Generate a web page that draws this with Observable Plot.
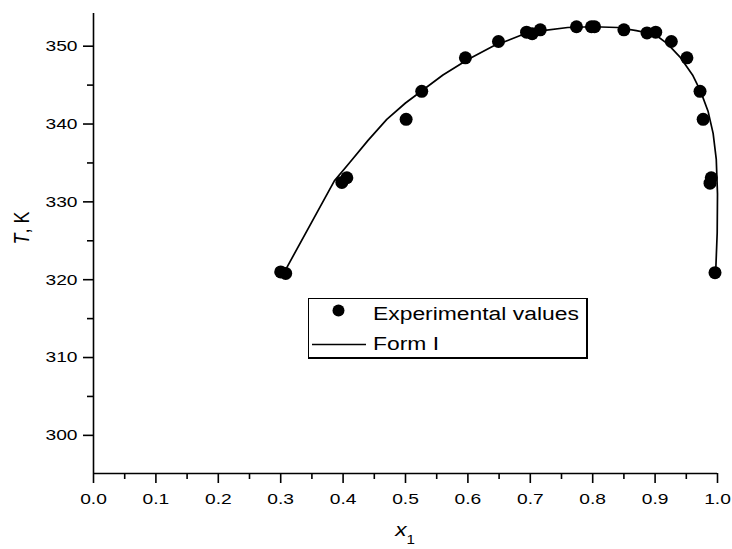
<!DOCTYPE html>
<html>
<head>
<meta charset="utf-8">
<script src="https://cdn.jsdelivr.net/npm/d3@7"></script>
<script src="https://cdn.jsdelivr.net/npm/@observablehq/plot@0.6"></script>
<style>
  body { margin: 0; background: #fff; }
  #wrap { position: relative; width: 732px; height: 549px; font-family: "Liberation Sans", Arial, sans-serif; color: #000; }
  #legend { position: absolute; left: 308px; top: 298px; width: 280px; height: 61px; box-sizing: border-box;
            border-style: solid; border-color: #000; border-width: 1.2px 2.6px 2.6px 1.2px; background: #fff; }
  #legend .sym { position: absolute; left: 0; top: 0; }
  #legend .lab { position: absolute; left: 64px; font-size: 18px; line-height: 20px; white-space: nowrap;
                 transform: scaleX(1.27); transform-origin: left center; }
</style>
</head>
<body>
<div id="wrap"></div>
<script>
// Experimental values (x1, T/K)
const expX = [0.300, 0.308, 0.398, 0.406, 0.501, 0.526, 0.596, 0.649, 0.694, 0.703, 0.716, 0.774,
              0.798, 0.803, 0.850, 0.887, 0.901, 0.926, 0.951, 0.972, 0.977, 0.988, 0.990, 0.996];
const expT = [321.0, 320.8, 332.5, 333.1, 340.6, 344.2, 348.5, 350.6, 351.8, 351.6, 352.1, 352.5,
              352.5, 352.5, 352.1, 351.7, 351.8, 350.6, 348.5, 344.2, 340.6, 332.4, 333.1, 320.9];
// Form I curve
const formX = [0.308, 0.386, 0.410, 0.440, 0.470, 0.500, 0.530, 0.560, 0.600, 0.640, 0.685, 0.720,
               0.760, 0.800, 0.840, 0.870, 0.900, 0.920, 0.940, 0.960, 0.973, 0.985, 0.993, 0.998,
               1.000, 0.9995, 0.997];
const formT = [321.3, 332.7, 335.0, 337.9, 340.6, 342.7, 344.5, 346.3, 348.3, 350.0, 351.4, 352.0,
               352.4, 352.5, 352.4, 352.0, 351.5, 350.3, 348.6, 346.3, 344.2, 341.6, 338.8, 335.5,
               331.0, 326.0, 320.8];

const xTicks = [0, 0.1, 0.2, 0.3, 0.4, 0.5, 0.6, 0.7, 0.8, 0.9, 1.0];
const xMinorTicks = [0.05, 0.15, 0.25, 0.35, 0.45, 0.55, 0.65, 0.75, 0.85, 0.95];
const yTicks = [300, 310, 320, 330, 340, 350];
const yMinorTicks = [305, 315, 325, 335, 345];
const xDomain = [0, 1];
const yDomain = [295.1, 354.2];
const legendLabels = ["Experimental values", "Form I"];

const exp = expX.map((x, i) => ({x, T: expT[i]}));
const form = formX.map((x, i) => ({x, T: formT[i]}));

const SW = 1.6;
const plot = Plot.plot({
  width: 732, height: 549,
  marginTop: 13, marginRight: 15, marginBottom: 76, marginLeft: 93,
  style: {fontFamily: '"Liberation Sans", Arial, sans-serif', fontSize: "15px", color: "#000", background: "#fff", overflow: "visible"},
  x: {domain: xDomain},
  y: {domain: yDomain},
  marks: [
    Plot.ruleX([xDomain[0]], {stroke: "#000", strokeWidth: SW}),
    Plot.ruleY([yDomain[0]], {stroke: "#000", strokeWidth: SW}),
    Plot.axisX({ticks: xTicks, tickSize: 10, tickPadding: 10, tickFormat: d3.format(".1f"), label: null, strokeWidth: SW}),
    Plot.axisX({ticks: xMinorTicks, tickSize: 6, tickFormat: () => "", label: null, strokeWidth: SW}),
    Plot.axisY({ticks: yTicks, tickSize: 10, tickPadding: 6, tickFormat: d3.format("d"), label: null, strokeWidth: SW}),
    Plot.axisY({ticks: yMinorTicks, tickSize: 6, tickFormat: () => "", label: null, strokeWidth: SW}),
    Plot.line(form, {x: "x", y: "T", stroke: "#000", strokeWidth: 1.7}),
    Plot.dot(exp, {x: "x", y: "T", r: 6.5, fill: "#000", stroke: "none"})
  ]
});

const wrap = document.getElementById("wrap");
wrap.appendChild(plot);

// horizontally stretched tick labels like the original
const SX = 1.28;
plot.querySelectorAll('g[aria-label$="tick label"] text').forEach(t => {
  if (!t.textContent) return;
  const w = t.getComputedTextLength();
  t.setAttribute("textLength", (w * SX).toFixed(2));
  t.setAttribute("lengthAdjust", "spacingAndGlyphs");
});

// axis titles
const svg = d3.select(plot);
const xs = plot.scale("x"), ys = plot.scale("y");
const axisY0 = ys.apply(yDomain[0]);
const xt = svg.append("text")
  .attr("transform", `translate(${xs.apply((xDomain[0] + xDomain[1]) / 2)},${axisY0 + 63}) scale(1.26,1)`)
  .attr("text-anchor", "middle").attr("font-size", 18).attr("fill", "#000");
xt.append("tspan").attr("font-style", "italic").text("x");
xt.append("tspan").attr("font-size", 12).attr("dy", 8).text("1");

const yt = svg.append("text")
  .attr("transform", `translate(29,228) rotate(-90) scale(1,1.26)`)
  .attr("text-anchor", "middle").attr("font-size", 18).attr("fill", "#000");
yt.append("tspan").attr("font-style", "italic").text("T");
yt.append("tspan").text(", K");

// legend
const legend = document.createElement("div");
legend.id = "legend";
wrap.appendChild(legend);
const ls = d3.select(legend).append("svg").attr("class", "sym").attr("width", 62).attr("height", 58);
ls.append("circle").attr("cx", 29.5).attr("cy", 11.5).attr("r", 6).attr("fill", "#000");
ls.append("line").attr("x1", 3).attr("x2", 57).attr("y1", 45.5).attr("y2", 45.5).attr("stroke", "#000").attr("stroke-width", 1.7);
const tops = [5, 35];
legendLabels.forEach((s, i) => {
  const sp = document.createElement("span");
  sp.className = "lab";
  sp.style.top = tops[i] + "px";
  sp.textContent = s;
  legend.appendChild(sp);
});
</script>
</body>
</html>
